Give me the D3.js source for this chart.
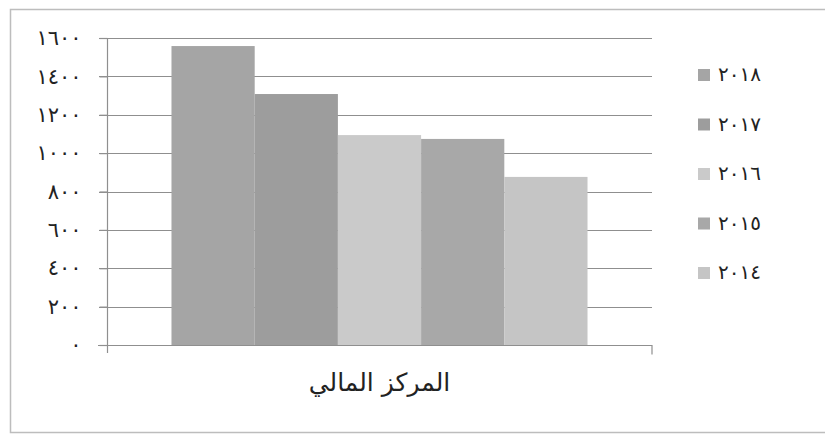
<!DOCTYPE html>
<html>
<head>
<meta charset="utf-8">
<script src="https://cdn.jsdelivr.net/npm/d3@7"></script>
<style>
  body { margin: 0; background: #fff; }
  text { font-family: "DejaVu Sans", sans-serif; fill: #222; }
</style>
</head>
<body>
<div id="chart"></div>
<script>
// data
var category = "المركز المالي";
var years = ["٢٠١٨", "٢٠١٧", "٢٠١٦", "٢٠١٥", "٢٠١٤"];
var values = [1558, 1308, 1094, 1074, 876];
var colors = ["#a5a5a5", "#9d9d9d", "#cacaca", "#a8a8a8", "#c5c5c5"];
var yTicks = [0, 200, 400, 600, 800, 1000, 1200, 1400, 1600];

// turn western digits into arabic-indic ones for the labels
function arabicDigits(n) {
  return String(n).replace(/[0-9]/g, function(d) { return "٠١٢٣٤٥٦٧٨٩"[d]; });
}

var width = 825, height = 437;
var plot = {left: 107, right: 652, top: 38, bottom: 345};

var svg = d3.select("#chart").append("svg")
    .attr("width", width)
    .attr("height", height);

// outer frame
svg.append("rect")
  .attr("x", 10.5).attr("y", 9.5)
  .attr("width", 830).attr("height", 423)
  .attr("fill", "none")
  .attr("stroke", "#bdbdbd")
  .attr("stroke-width", 1.5);

var y = d3.scaleLinear()
  .domain([0, 1600])
  .range([plot.bottom, plot.top]);

// one category, series clustered inside it
var x0 = d3.scaleBand()
  .domain([category])
  .range([plot.left, plot.right])
  .paddingOuter(0.155);

var x1 = d3.scaleBand()
  .domain(years)
  .range([0, x0.bandwidth()]);

// gridlines
svg.append("g")
  .selectAll("line")
  .data(yTicks.slice(1))
  .enter()
  .append("line")
    .attr("x1", plot.left - 8)
    .attr("x2", plot.right)
    .attr("y1", function(d) { return Math.round(y(d)) + 0.5; })
    .attr("y2", function(d) { return Math.round(y(d)) + 0.5; })
    .attr("stroke", "#8f8f8f")
    .attr("stroke-width", 1.2);

// bars
svg.append("g")
  .selectAll("rect")
  .data(values)
  .enter()
  .append("rect")
    .attr("x", function(d, i) { return x0(category) + x1(years[i]); })
    .attr("y", function(d) { return y(d); })
    .attr("width", x1.bandwidth())
    .attr("height", function(d) { return y(0) - y(d); })
    .attr("fill", function(d, i) { return colors[i]; });

// y axis
var yAxis = d3.axisLeft(y)
  .tickValues(yTicks)
  .tickSize(8)
  .tickPadding(18)
  .tickFormat(arabicDigits);

var gy = svg.append("g")
  .attr("transform", "translate(" + (plot.left + 0.5) + ",0)")
  .call(yAxis);
gy.select(".domain").remove();
gy.selectAll("line").attr("stroke", "#8f8f8f").attr("stroke-width", 1.2);
gy.selectAll("text")
  .style("font-size", "21px")
  .style("letter-spacing", "1px")
  .attr("fill", "#222");

// vertical axis line, runs a little below zero
svg.append("line")
  .attr("x1", plot.left + 0.5).attr("x2", plot.left + 0.5)
  .attr("y1", plot.top).attr("y2", plot.bottom + 8)
  .attr("stroke", "#8f8f8f").attr("stroke-width", 1.2);

// x axis
var xAxis = d3.axisBottom(x0).tickSize(0).tickFormat("");
var gx = svg.append("g")
  .attr("transform", "translate(0," + (plot.bottom + 0.5) + ")")
  .call(xAxis);
gx.select(".domain").attr("stroke", "#8f8f8f").attr("stroke-width", 1.2)
  .attr("d", "M" + (plot.left - 9) + ",0H" + plot.right + "V9");

// category label
svg.append("text")
  .attr("x", x0(category) + x0.bandwidth() / 2)
  .attr("y", 391)
  .attr("text-anchor", "middle")
  .style("font-size", "25px")
  .text(category);

// legend
var legend = svg.append("g")
  .selectAll("g")
  .data(years)
  .enter()
  .append("g")
    .attr("transform", function(d, i) { return "translate(698," + (75 + i * 49.5) + ")"; });

legend.append("rect")
  .attr("x", 0).attr("y", -6)
  .attr("width", 12).attr("height", 12)
  .attr("fill", function(d, i) { return colors[i]; });

legend.append("text")
  .attr("x", 20)
  .attr("y", 6)
  .style("font-size", "20px")
  .style("letter-spacing", "2px")
  .text(function(d) { return d; });
</script>
</body>
</html>
